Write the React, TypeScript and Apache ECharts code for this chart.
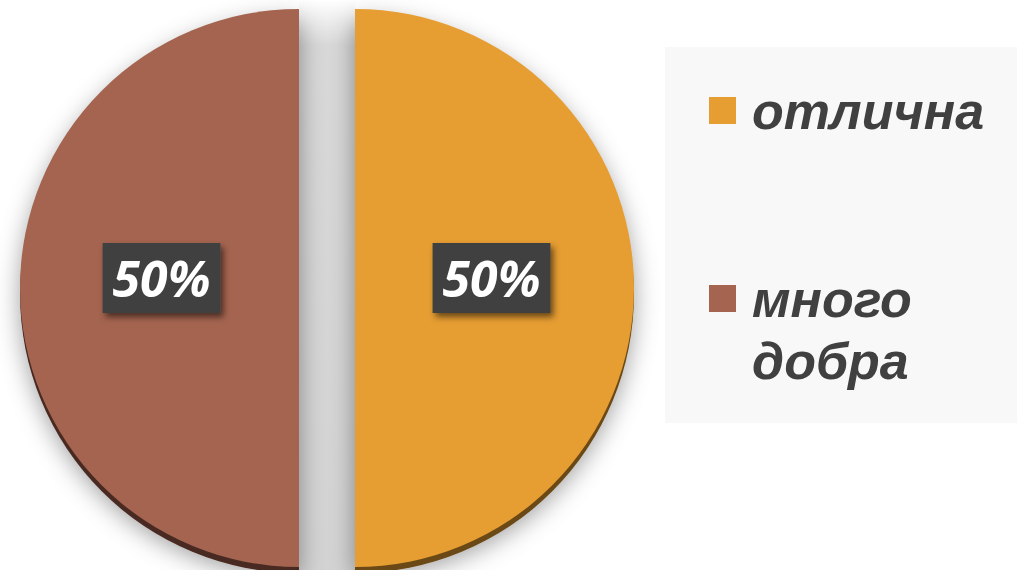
import React, { useEffect, useRef } from "react";
import * as echarts from "echarts";

const categories = ["отлична", "много\nдобра"];
const values = [50, 50];
const colors = ["#E69D32", "#A4644F"];
const edgeColors = ["#6A4817", "#4A2A20"];

export default function App() {
  const ref = useRef<HTMLDivElement>(null);
  useEffect(() => {
    document.body.style.margin = "0";
    const chart = echarts.init(ref.current!, null, { renderer: "svg" });
    const cx = 327;
    const cy = 288;
    const r = 279;
    const offset = 28;
    const legendGraphics: any[] = [];
    categories.forEach((name, i) => {
      const sqY = 97 + i * 188;
      legendGraphics.push({
        type: "rect",
        shape: { x: 709, y: sqY, width: 27, height: 27 },
        style: { fill: colors[i] },
        z: 1,
      });
      legendGraphics.push({
        type: "text",
        x: 752,
        y: sqY + 13.5 - 31,
        style: {
          text: name,
          font: "italic bold 52px 'Liberation Sans', Arial, sans-serif",
          fill: "#404040",
          verticalAlign: "top",
          lineHeight: 62,
        },
        z: 1,
      });
    });
    const option: any = {
      animation: false,
      backgroundColor: "#ffffff",
      graphic: [
        {
          type: "rect",
          z: -10,
          shape: { x: cx - offset, y: 0, width: offset * 2, height: 570 },
          style: {
            fill: {
              type: "linear",
              x: 0,
              y: 0,
              x2: 0,
              y2: 1,
              colorStops: [
                { offset: 0, color: "#ffffff" },
                { offset: 0.08, color: "#d8d8d8" },
                { offset: 1, color: "#d3d3d3" },
              ],
            },
          },
        },
        {
          type: "rect",
          z: 0,
          shape: { x: 665, y: 47, width: 352, height: 376 },
          style: { fill: "#f8f8f8" },
        },
        ...legendGraphics,
      ],
      series: [
        {
          type: "pie",
          z: 1,
          silent: true,
          center: [cx, cy + 6],
          radius: r,
          startAngle: 90,
          clockwise: true,
          selectedMode: "multiple",
          selectedOffset: offset,
          label: { show: false },
          labelLine: { show: false },
          itemStyle: {
            shadowBlur: 24,
            shadowColor: "rgba(0,0,0,0.38)",
            shadowOffsetY: 4,
          },
          data: values.map((v, i) => ({
            value: v,
            name: categories[i],
            selected: true,
            itemStyle: { color: edgeColors[i] },
          })),
        },
        {
          type: "pie",
          z: 2,
          silent: true,
          center: [cx, cy],
          radius: r,
          startAngle: 90,
          clockwise: true,
          selectedMode: "multiple",
          selectedOffset: offset,
          labelLayout: (p: any) => ({ dx: p.dataIndex === 0 ? -6 : 5, dy: -10 }),
          label: {
            show: true,
            position: "inside",
            formatter: "{d}%",
            color: "#ffffff",
            fontFamily: "'Open Sans', sans-serif",
            fontStyle: "italic",
            fontWeight: "bold",
            fontSize: 50,
            lineHeight: 50,
            backgroundColor: "#414141",
            padding: [10, 10, 10, 10],
            shadowColor: "rgba(0,0,0,0.55)",
            shadowBlur: 6,
            shadowOffsetX: 3,
            shadowOffsetY: 4,
          },
          labelLine: { show: false },
          data: values.map((v, i) => ({
            value: v,
            name: categories[i],
            selected: true,
            itemStyle: { color: colors[i] },
          })),
        },
      ],
    };
    chart.setOption(option);
    return () => chart.dispose();
  }, []);
  return (
    <div
      ref={ref}
      style={{ position: "fixed", left: 0, top: 0, width: 1017, height: 570 }}
    />
  );
}
